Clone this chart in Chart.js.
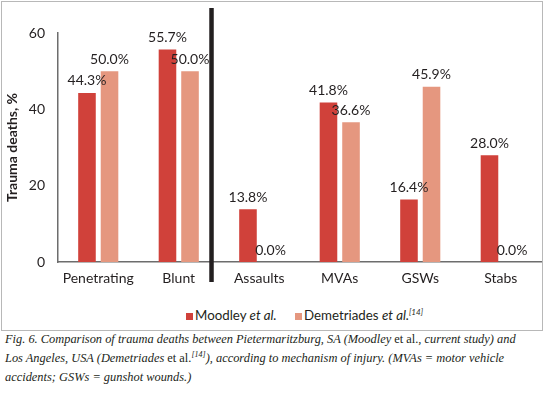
<!DOCTYPE html>
<html>
<head>
<meta charset="utf-8">
<script src="https://cdn.jsdelivr.net/npm/chart.js@4.4.0/dist/chart.umd.min.js"></script>
<style>
  html, body { margin:0; padding:0; background:#fff; }
  body { width:545px; height:394px; position:relative; overflow:hidden; font-family: Lato, "Open Sans", sans-serif; color:#231f20; }
  #box { position:absolute; left:1px; top:1px; width:540px; height:328px; border:1.5px solid #b8b8b8; }
  #wrap { position:absolute; left:0; top:0; width:545px; height:300px; }
  #legend { position:absolute; top:305px; left:0; width:545px; height:20px; font-size:13.3px; }
  .lg { position:absolute; top:0; white-space:nowrap; line-height:20px; }
  .sw { display:inline-block; width:7px; height:7px; margin-right:2px; vertical-align:0px; }
  #caption { position:absolute; left:5px; top:330px; width:545px; white-space:nowrap; font-family:"Liberation Serif", serif; font-style:italic; font-size:12.4px; line-height:19px; color:#231f20; }
  #caption .up { font-style:normal; }
  sup { font-size:8px; line-height:0; }
</style>
</head>
<body>
<div id="box"></div>
<div id="wrap"><canvas id="c" width="545" height="300"></canvas></div>
<div id="legend">
  <div class="lg" style="left:186px"><span class="sw" style="background:#d0413a"></span>Moodley <i>et al.</i></div>
  <div class="lg" style="left:295px"><span class="sw" style="background:#e5977f"></span>Demetriades <i>et al.<sup>[14]</sup></i></div>
</div>
<div id="caption">Fig. 6. Comparison of trauma deaths between Pietermaritzburg, SA (Moodley <span class="up">et al.</span>, current study) and<br>Los Angeles, USA (Demetriades <span class="up">et al.</span><sup>[14]</sup>), according to mechanism of injury. (MVAs = motor vehicle<br>accidents; GSWs = gunshot wounds.)</div>
<script>
const categories = ["Penetrating", "Blunt", "Assaults", "MVAs", "GSWs", "Stabs"];
const moodley = [44.3, 55.7, 13.8, 41.8, 16.4, 28.0];
const demetriades = [50.0, 50.0, 0.0, 36.6, 45.9, 0.0];
const yTicks = [0, 20, 40, 60];

const valueLabels = {
  id: 'valueLabels',
  afterDatasetsDraw(chart) {
    const ctx = chart.ctx;
    ctx.save();
    ctx.font = '14px Lato, "Open Sans", sans-serif';
    ctx.fillStyle = '#231f20';
    ctx.textAlign = 'center';
    ctx.textBaseline = 'bottom';
    chart.data.datasets.forEach((ds, i) => {
      chart.getDatasetMeta(i).data.forEach((bar, j) => {
        ctx.fillText(ds.data[j].toFixed(1) + '%', bar.x, bar.y - 5);
      });
    });
    ctx.restore();
  }
};
const divider = {
  id: 'divider',
  afterDraw(chart) {
    const xs = chart.scales.x;
    const x = xs.getPixelForValue(1.407);
    const ctx = chart.ctx;
    ctx.save();
    ctx.strokeStyle = '#231f20';
    ctx.lineWidth = 4.5;
    ctx.beginPath();
    ctx.moveTo(x, 8);
    ctx.lineTo(x, 282);
    ctx.stroke();
    ctx.restore();
  }
};

new Chart(document.getElementById('c'), {
  type: 'bar',
  data: {
    labels: categories,
    datasets: [
      { label: 'Moodley et al.', data: moodley, backgroundColor: '#d0413a', categoryPercentage: 0.56, barPercentage: 0.78 },
      { label: 'Demetriades et al.', data: demetriades, backgroundColor: '#e5977f', categoryPercentage: 0.56, barPercentage: 0.78 }
    ]
  },
  options: {
    responsive: false,
    animation: false,
    devicePixelRatio: 1,
    layout: { padding: { left: 0, right: 4, top: 33, bottom: 0 } },
    plugins: { legend: { display: false }, tooltip: { enabled: false } },
    scales: {
      x: {
        grid: { display: false, drawTicks: false },
        border: { color: '#6d6d6d', width: 1.5 },
        ticks: { color: '#231f20', font: { family: 'Lato, "Open Sans", sans-serif', size: 14 }, padding: 8, maxRotation: 0 },
        afterFit(s) { s.height = 38; }
      },
      y: {
        min: 0, max: 60,
        afterBuildTicks(s) { s.ticks = yTicks.map(v => ({ value: v })); },
        grid: { display: false, drawTicks: false },
        border: { color: '#6d6d6d', width: 1.5 },
        ticks: { color: '#231f20', font: { family: 'Lato, "Open Sans", sans-serif', size: 14 }, padding: 13 },
        title: { display: true, text: 'Trauma deaths, %', color: '#231f20', font: { family: 'Lato, "Open Sans", sans-serif', size: 14, weight: 'bold' }, padding: { top: 4, bottom: 0 } },
        afterFit(s) { s.width = 58; }
      }
    }
  },
  plugins: [valueLabels, divider]
});
</script>
</body>
</html>
